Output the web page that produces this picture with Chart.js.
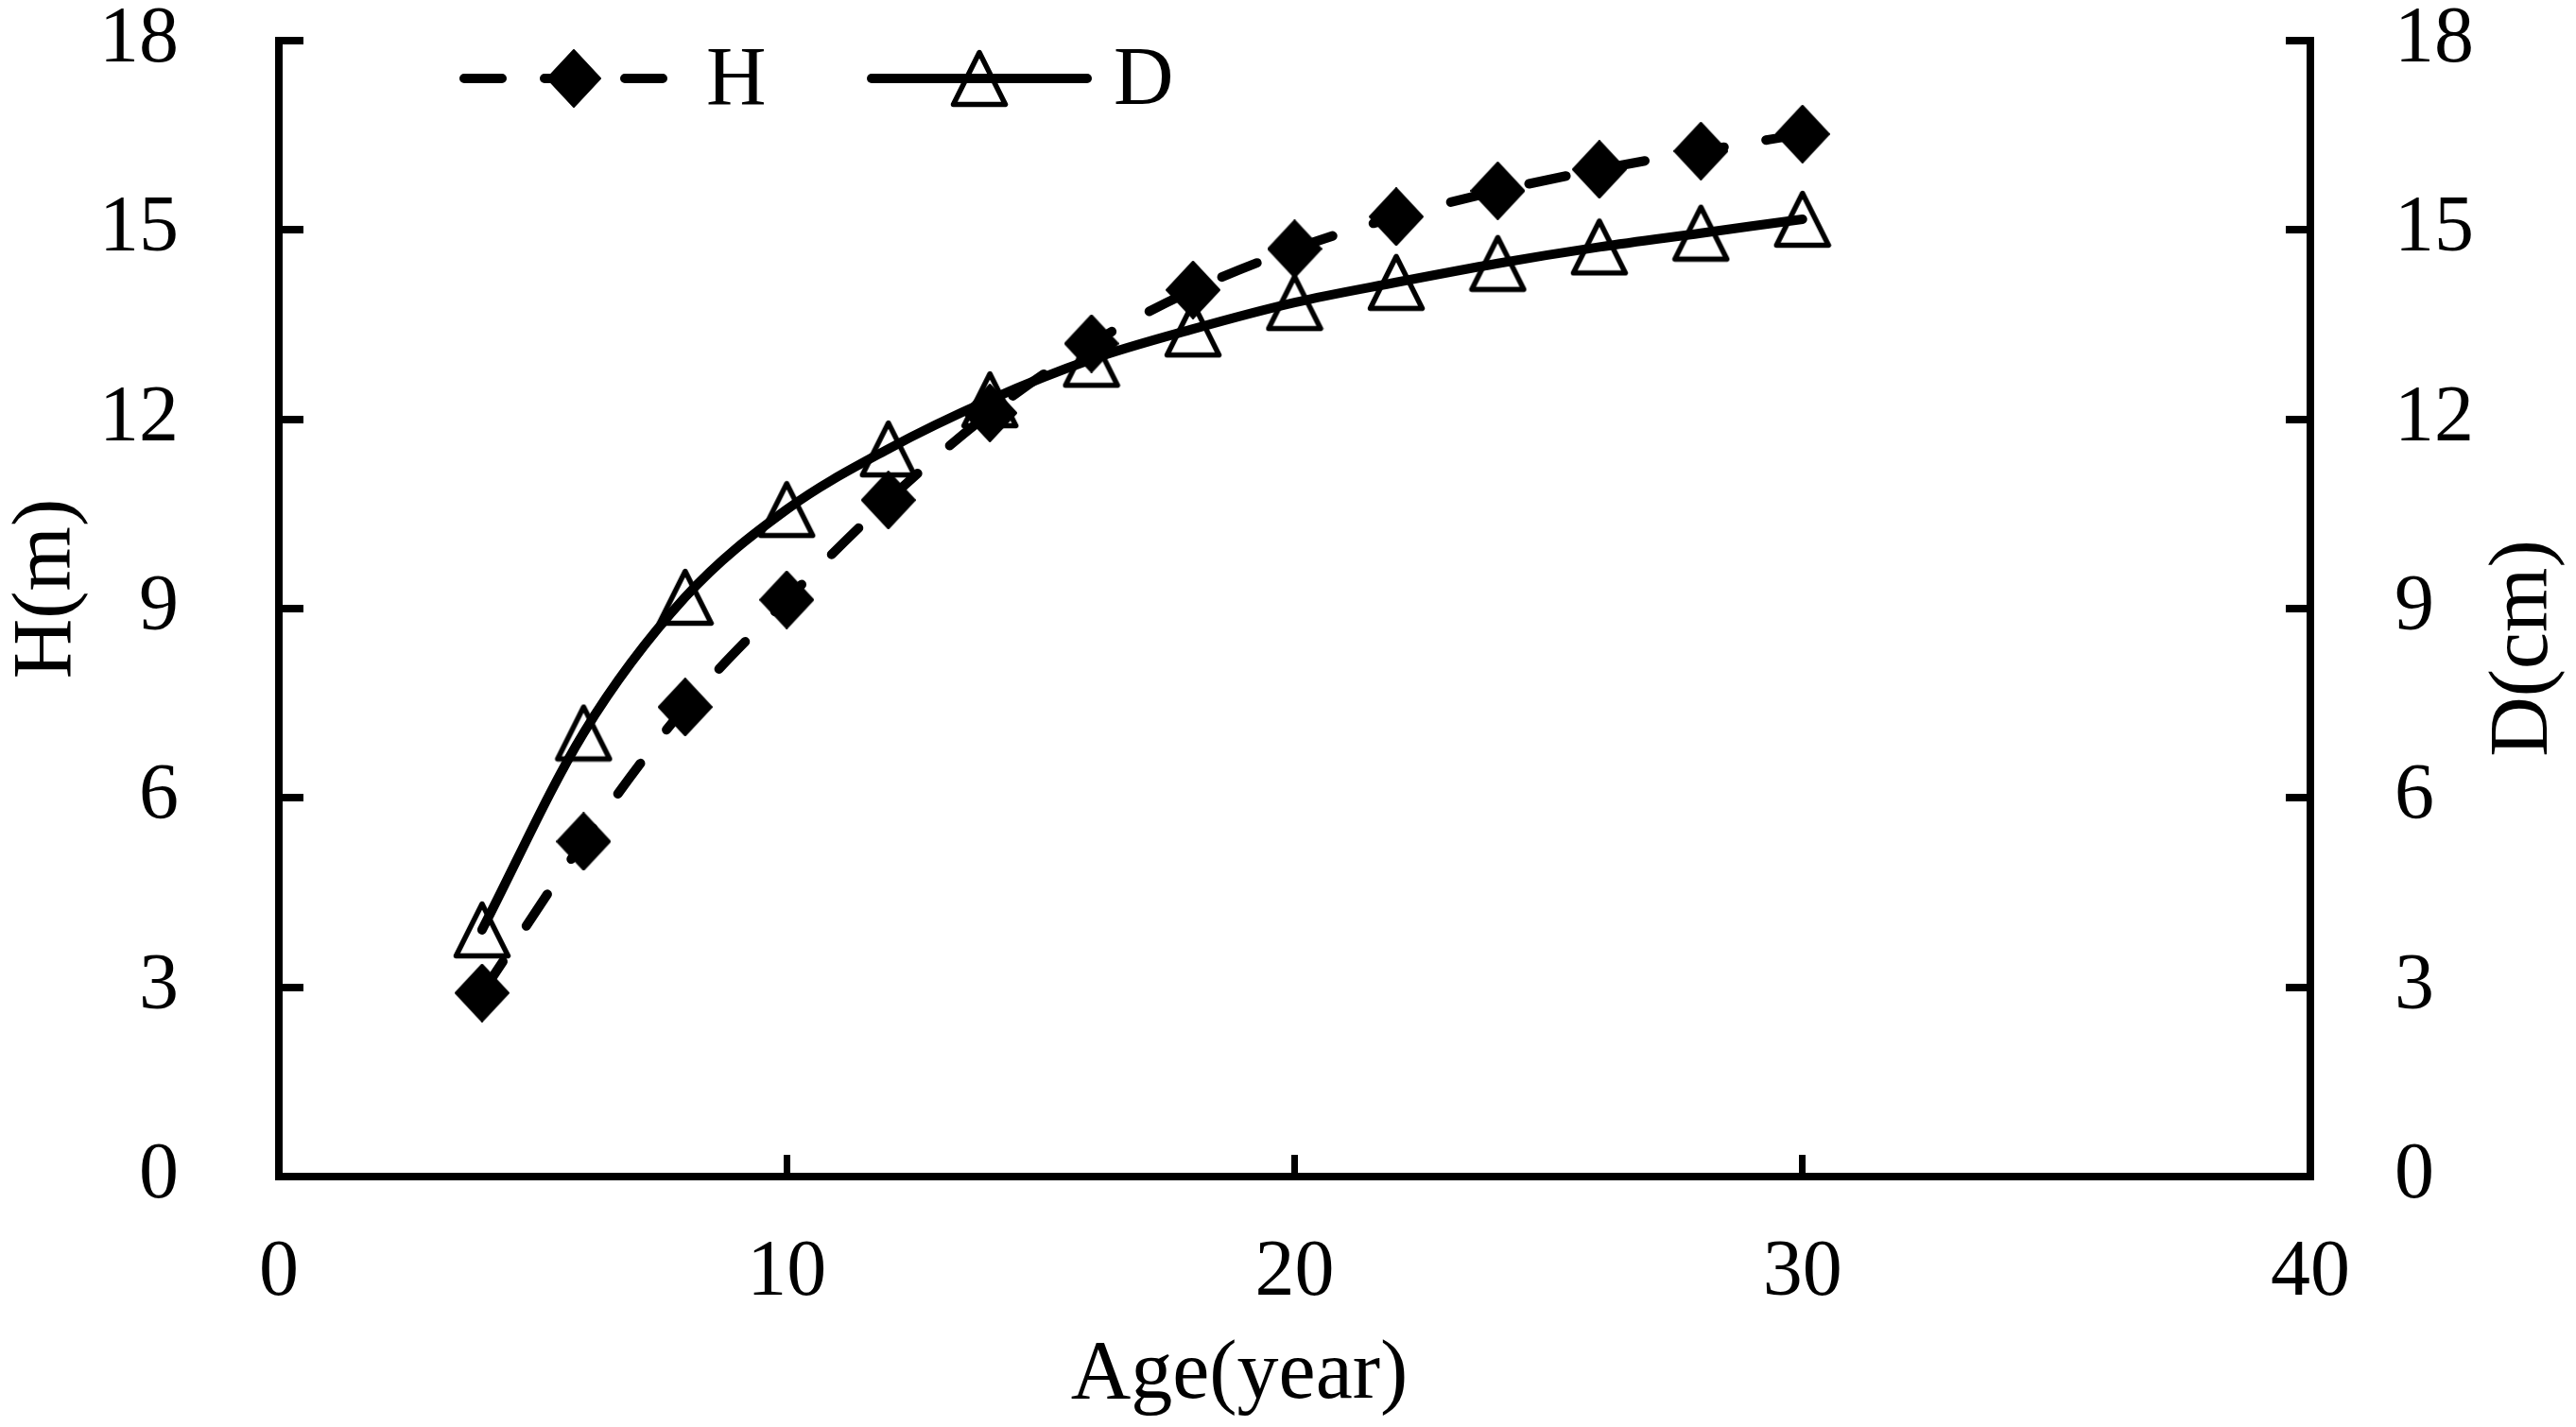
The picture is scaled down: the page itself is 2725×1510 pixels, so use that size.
<!DOCTYPE html>
<html>
<head>
<meta charset="utf-8">
<script src="https://cdn.jsdelivr.net/npm/chart.js@4.4.1/dist/chart.umd.min.js"></script>
<style>
  html, body { margin: 0; padding: 0; background: #fff; }
  #wrap { width: 2725px; height: 1510px; position: relative; }
</style>
</head>
<body>
<div id="wrap"><canvas id="myChart"></canvas></div>
<script>
// data
const ages = [4, 6, 8, 10, 12, 14, 16, 18, 20, 22, 24, 26, 28, 30];
const heightH = [2.91, 5.31, 7.44, 9.14, 10.72, 12.10, 13.20, 14.05, 14.70, 15.21, 15.62, 15.96, 16.25, 16.52];
const diamD = [3.91, 7.03, 9.18, 10.57, 11.53, 12.31, 12.95, 13.43, 13.85, 14.17, 14.47, 14.73, 14.95, 15.17];

const xTicks = [0, 10, 20, 30, 40];
const yTicks = [0, 3, 6, 9, 12, 15, 18];

const seriesNames = ['H', 'D'];
const xTitle = 'Age(year)';
const leftTitle = 'H(m)';
const rightTitle = 'D(cm)';

const FONT = '"Liberation Serif", "Times New Roman", serif';

// marker images (bbox centred on the point, like the original)
function diamondMarker() {
  const c = document.createElement('canvas');
  c.width = 58; c.height = 62;
  const g = c.getContext('2d');
  g.fillStyle = '#000';
  g.strokeStyle = '#000';
  g.lineWidth = 2;
  g.lineJoin = 'round';
  g.beginPath();
  g.moveTo(29, 1); g.lineTo(57, 31); g.lineTo(29, 61); g.lineTo(1, 31);
  g.closePath();
  g.fill(); g.stroke();
  return c;
}
function triangleMarker() {
  const c = document.createElement('canvas');
  c.width = 62; c.height = 62;
  const g = c.getContext('2d');
  g.strokeStyle = '#000';
  g.lineWidth = 5.5;
  g.lineJoin = 'round';
  g.beginPath();
  g.moveTo(31, 3.5); g.lineTo(58.5, 58.5); g.lineTo(3.5, 58.5);
  g.closePath();
  g.stroke();
  return c;
}
const diamondImg = diamondMarker();
const triangleImg = triangleMarker();

function toPoints(xs, ys) {
  return xs.map((x, i) => ({ x: x, y: ys[i] }));
}

// legend + axis titles
const decorations = {
  id: 'decorations',
  afterDraw(chart) {
    const ctx = chart.ctx;
    ctx.save();
    ctx.fillStyle = '#000';
    ctx.strokeStyle = '#000';

    // legend
    const legendY = 83;
    const items = [
      { x0: 491, x1: 722, mx: 607, tx: 747 },
      { x0: 922, x1: 1150, mx: 1036, tx: 1178 }
    ];
    chart.data.datasets.forEach((ds, i) => {
      const it = items[i];
      ctx.save();
      ctx.lineWidth = ds.borderWidth;
      ctx.lineCap = 'round';
      ctx.setLineDash(ds.borderDash || []);
      ctx.beginPath();
      ctx.moveTo(it.x0, legendY);
      ctx.lineTo(it.x1, legendY);
      ctx.stroke();
      ctx.restore();
      const img = ds.pointStyle;
      ctx.drawImage(img, it.mx - img.width / 2, legendY - img.height / 2);
      ctx.font = `88px ${FONT}`;
      ctx.textAlign = 'left';
      ctx.textBaseline = 'alphabetic';
      ctx.fillText(ds.label, it.tx, 110);
    });

    // axis titles
    ctx.font = `88px ${FONT}`;
    ctx.textAlign = 'center';
    ctx.textBaseline = 'alphabetic';
    ctx.fillText(xTitle, 1311, 1479);

    ctx.save();
    ctx.translate(74, 623);
    ctx.rotate(-Math.PI / 2);
    ctx.fillText(leftTitle, 0, 0);
    ctx.restore();

    ctx.save();
    ctx.translate(2694, 686);
    ctx.rotate(-Math.PI / 2);
    ctx.fillText(rightTitle, 0, 0);
    ctx.restore();

    ctx.restore();
  }
};

const tickFont = { family: FONT, size: 84 };

const config = {
  type: 'line',
  data: {
    datasets: [
      {
        label: seriesNames[0],
        data: toPoints(ages, heightH),
        yAxisID: 'y',
        borderColor: '#000',
        borderWidth: 10,
        borderDash: [40, 45],
        borderCapStyle: 'round',
        cubicInterpolationMode: 'monotone',
        pointStyle: diamondImg,
        pointRadius: 30,
        fill: false
      },
      {
        label: seriesNames[1],
        data: toPoints(ages, diamD),
        yAxisID: 'y2',
        borderColor: '#000',
        borderWidth: 10,
        borderCapStyle: 'round',
        cubicInterpolationMode: 'monotone',
        pointStyle: triangleImg,
        pointRadius: 30,
        fill: false
      }
    ]
  },
  options: {
    responsive: true,
    maintainAspectRatio: false,
    devicePixelRatio: 1,
    animation: false,
    layout: { padding: { top: 43, left: 0, right: 0, bottom: 0 } },
    plugins: {
      legend: { display: false },
      tooltip: { enabled: false }
    },
    scales: {
      x: {
        type: 'linear',
        position: 'bottom',
        min: 0,
        max: 40,
        afterBuildTicks: s => { s.ticks = xTicks.map(v => ({ value: v })); },
        afterFit: s => { s.height = 265; s.paddingLeft = 0; s.paddingRight = 0; },
        ticks: { color: '#000', font: tickFont, padding: 76, maxRotation: 0 },
        border: { display: true, color: '#000', width: 8 },
        grid: { drawOnChartArea: false, drawTicks: true, tickLength: -23, color: '#000', lineWidth: 7 }
      },
      y: {
        type: 'linear',
        position: 'left',
        min: 0,
        max: 18,
        afterBuildTicks: s => { s.ticks = yTicks.map(v => ({ value: v })); },
        afterFit: s => { s.width = 295; s.paddingTop = 0; s.paddingBottom = 0; },
        ticks: { color: '#000', font: tickFont, padding: 132 },
        border: { display: true, color: '#000', width: 8 },
        grid: { drawOnChartArea: false, drawTicks: true, tickLength: -26, color: '#000', lineWidth: 8 }
      },
      y2: {
        type: 'linear',
        position: 'right',
        min: 0,
        max: 18,
        afterBuildTicks: s => { s.ticks = yTicks.map(v => ({ value: v })); },
        afterFit: s => { s.width = 281; s.paddingTop = 0; s.paddingBottom = 0; },
        ticks: { color: '#000', font: tickFont, padding: 115 },
        border: { display: true, color: '#000', width: 8 },
        grid: { drawOnChartArea: false, drawTicks: true, tickLength: -26, color: '#000', lineWidth: 8 }
      }
    }
  },
  plugins: [decorations]
};

const myChart = new Chart(document.getElementById('myChart'), config);
</script>
</body>
</html>
